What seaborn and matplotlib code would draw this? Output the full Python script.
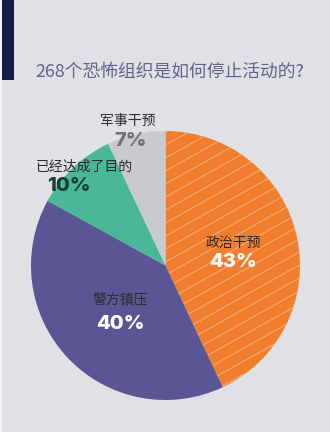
import numpy as np
import matplotlib
matplotlib.use("Agg")
import matplotlib.pyplot as plt
from matplotlib.patches import Rectangle
import seaborn as sns

# Data: how 268 terrorist groups ended
categories = ["政治干预", "警方镇压", "已经达成了目的", "军事干预"]
shares = [43, 40, 10, 7]
colors = ["#f07e2c", "#5a5595", "#4ab797", "#c9cacf"]
title = "268个恐怖组织是如何停止活动的?"

sns.set_theme(style="white")
plt.rcParams["font.family"] = ["Noto Sans CJK SC", "DejaVu Sans"]

W, H = 330, 432
BG = "#e0e1e5"
fig = plt.figure(figsize=(W / 100, H / 100), dpi=100, facecolor=BG)
ax = fig.add_axes([0, 0, 1, 1])
ax.set_facecolor(BG)

# Side accents
ax.add_patch(Rectangle((0, 0), 2, H, color="#f4f4f6", lw=0, zorder=1))
ax.add_patch(Rectangle((2, H - 80), 12, 80, color="#141c45", lw=0, zorder=2))

# Pie
cx, cy, r = 165.5, H - 265.5, 134.5
wedges, _ = ax.pie(shares, colors=colors, startangle=90, counterclock=False,
                   center=(cx, cy), radius=r, frame=True,
                   wedgeprops=dict(linewidth=0, antialiased=True))

# Diagonal stripes on the political-intervention slice
xs = np.array([cx - 20, cx + r + 20])
for c in np.arange(cy - r - 200, cy + r + 20, 13):
    ln, = ax.plot(xs, 0.56 * (xs - cx) + c, color="#f7aa72", lw=0.8, zorder=3)
    ln.set_clip_path(wedges[0])

ax.set_xlim(0, W)
ax.set_ylim(0, H)
ax.set_aspect("equal")
ax.axis("off")

# Title
ax.text(35, H - 72, title, fontsize=12.8, color="#64638f", ha="left", va="center")

pct_font = ["Inter", "DejaVu Sans"]
name_color = "#2b2b2b"
pct = [f"{v}%" for v in shares]
pct_kw = dict(fontsize=14.5, fontweight="heavy", family=pct_font, va="center")

# Political intervention
ax.text(233, H - 243, categories[0], fontsize=10, color=name_color, ha="center", va="center")
ax.text(233, H - 262, pct[0], color="white", ha="center", **pct_kw)
# Police crackdown
ax.text(120, H - 299, categories[1], fontsize=10, color=name_color, ha="center", va="center")
ax.text(120, H - 324, pct[1], color="white", ha="center", **pct_kw)
# Goals achieved
ax.text(36, H - 167, categories[2], fontsize=10, color=name_color, ha="left", va="center")
ax.text(47, H - 186, pct[2], color="#1c3d38", ha="left", **pct_kw)
# Military intervention
ax.text(128, H - 121, categories[3], fontsize=10, color=name_color, ha="center", va="center")
ax.text(131, H - 141, pct[3], color="#727272", ha="center", **pct_kw)

fig.savefig("out.png", dpi=100, facecolor=BG)
